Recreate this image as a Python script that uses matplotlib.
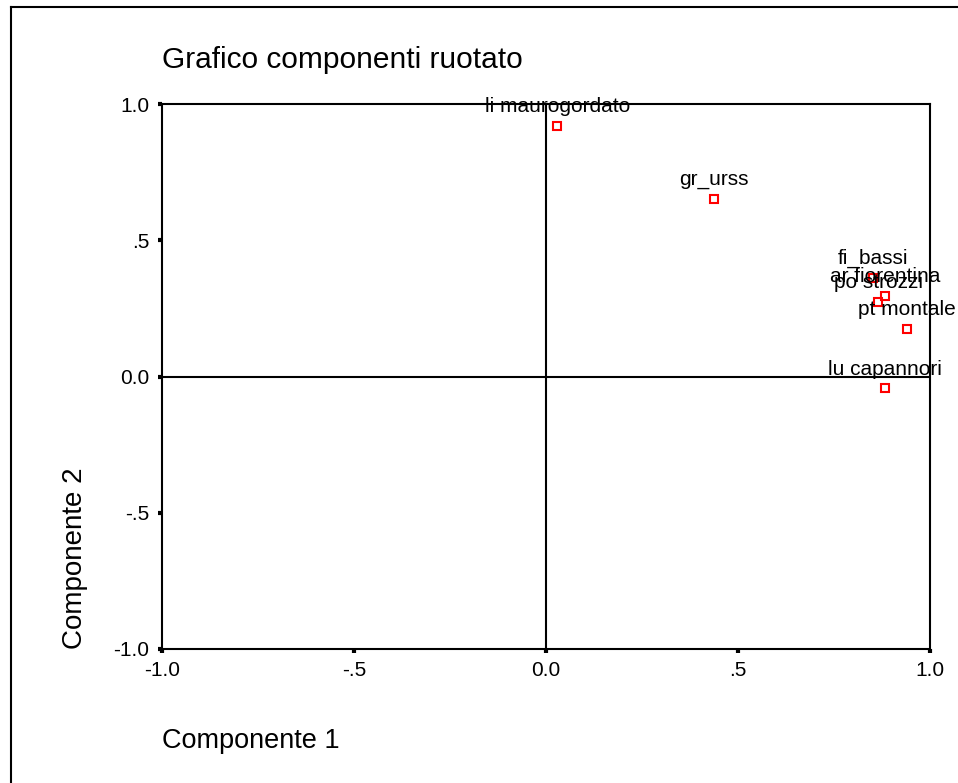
import matplotlib
matplotlib.use("Agg")
import matplotlib.pyplot as plt
from matplotlib.lines import Line2D

plt.rcParams['font.family'] = ['Liberation Sans', 'DejaVu Sans']

# Rotated component loadings
variables = ["li maurogordato", "gr_urss", "fi_bassi", "ar fiorentina",
             "po strozzi", "pt montale", "lu capannori"]
comp1 = [0.029, 0.437, 0.852, 0.883, 0.865, 0.940, 0.883]
comp2 = [0.921, 0.653, 0.363, 0.294, 0.275, 0.176, -0.044]

tick_values = [-1.0, -0.5, 0.0, 0.5, 1.0]
tick_labels = ["-1.0", "-.5", "0.0", ".5", "1.0"]

W, H = 958, 783
fig = plt.figure(figsize=(W / 100, H / 100), dpi=100)
fig.patch.set_facecolor("white")

# frame around the chart (open on the right and bottom)
fig.add_artist(Line2D([11 / W, 11 / W], [0, 1 - 7 / H], transform=fig.transFigure,
                      color="black", lw=1.5))
fig.add_artist(Line2D([11 / W, 1], [1 - 7 / H, 1 - 7 / H], transform=fig.transFigure,
                      color="black", lw=1.5))

left, right, top, bottom = 162, 930, 104, 649
ax = fig.add_axes([left / W, 1 - bottom / H, (right - left) / W, (bottom - top) / H])
ax.set_xlim(-1, 1)
ax.set_ylim(-1, 1)

for s in ax.spines.values():
    s.set_linewidth(1.5)
    s.set_color("black")

ax.axhline(0, color="black", lw=1.5, zorder=1)
ax.axvline(0, color="black", lw=1.5, zorder=1)

ax.set_xticks(tick_values)
ax.set_xticklabels(tick_labels)
ax.set_yticks(tick_values)
ax.set_yticklabels(tick_labels)
ax.tick_params(direction="out", length=3, width=3, pad=6, labelsize=15,
               colors="black")

ax.plot(comp1, comp2, linestyle="none", marker="s", markersize=6,
        markerfacecolor="none", markeredgecolor="#ff0000", markeredgewidth=1.5,
        zorder=3, clip_on=False)

for name, x, y in zip(variables, comp1, comp2):
    ax.annotate(name, (x, y), xytext=(0, 14), textcoords="offset points",
                ha="center", va="center", fontsize=15, color="black",
                annotation_clip=False, zorder=4)

fig.text(left / W, 1 - 68 / H, "Grafico componenti ruotato", fontsize=21.5,
         ha="left", va="baseline")
fig.text(left / W, 1 - 748 / H, "Componente 1", fontsize=19.5,
         ha="left", va="baseline")
fig.text(75 / W, 1 - bottom / H, "Componente 2", fontsize=20,
         ha="center", va="bottom", rotation=90)

fig.savefig("out.png", dpi=100, facecolor="white")
